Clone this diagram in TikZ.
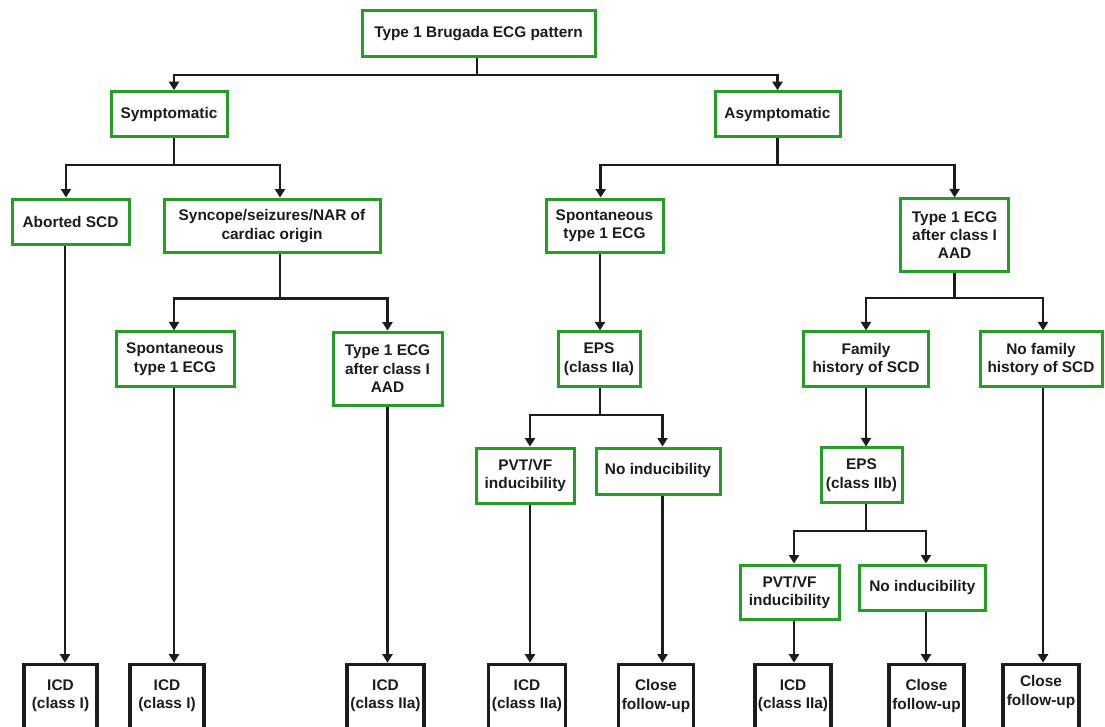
\documentclass[tikz,border=0pt]{standalone}
\usepackage{fontspec}
\setmainfont{Liberation Sans}
\usetikzlibrary{arrows.meta}
\definecolor{boxgreen}{RGB}{36,158,36}
\definecolor{ink}{RGB}{28,28,28}
\tikzset{
  gbox/.style={draw=boxgreen, line width=3pt, fill=white, inner sep=0pt,
    align=center, text=ink, font=\fontsize{15.4}{18.3}\selectfont\bfseries},
  kbox/.style={draw=ink, line width=3.5pt, fill=white, inner sep=0pt, anchor=north,
    minimum height=72pt, align=center, text=ink, font=\fontsize{15.4}{18.3}\selectfont\bfseries},
  conn/.style={draw=ink, line width=2.5pt},
  arr/.style={conn, -{Triangle[length=8.5pt,width=10pt]}},
}
\newcommand{\lowstrut}[1]{\rule[-#1pt]{0pt}{0pt}}
\begin{document}
\begin{tikzpicture}[x=1pt,y=-1pt]
\useasboundingbox (0,0) rectangle (1105,726);
\clip (0,0) rectangle (1105,726);
% green decision boxes
\node[gbox, minimum width=233pt, minimum height=46pt] (top) at (478.5,33.7) {Type 1 Brugada ECG pattern};
\node[gbox, minimum width=116pt, minimum height=45pt] (sym) at (169,114.2) {Symptomatic};
\node[gbox, minimum width=125pt, minimum height=45pt] (asym) at (777.5,114.2) {Asymptomatic};
\node[gbox, minimum width=117pt, minimum height=45pt] (abort) at (70.5,221.5) {Aborted SCD};
\node[gbox, minimum width=216pt, minimum height=53.7pt] (sync) at (272,225.9) {Syncope/seizures/NAR of\\cardiac origin};
\node[gbox, minimum width=117pt, minimum height=53.7pt] (spa) at (604.5,225.9) {Spontaneous\\type 1 ECG};
\node[gbox, minimum width=108pt, minimum height=72.7pt] (t1a) at (954.6,235.3) {Type 1 ECG\\after class I\\AAD};
\node[gbox, minimum width=118pt, minimum height=54.7pt] (sps) at (175,359.3) {Spontaneous\\type 1 ECG};
\node[gbox, minimum width=109pt, minimum height=73.3pt] (t1s) at (387.5,368.7) {Type 1 ECG\\after class I\\AAD};
\node[gbox, minimum width=82pt, minimum height=54.7pt] (eps1) at (599,359.3) {EPS\\(class IIa)};
\node[gbox, minimum width=125pt, minimum height=54.7pt] (fam) at (866,359.3) {Family\\history of SCD};
\node[gbox, minimum width=122pt, minimum height=54.7pt] (nofam) at (1041,359.3) {No family\\history of SCD};
\node[gbox, minimum width=98.6pt, minimum height=55.3pt] (pvt1) at (525.3,475.7) {PVT/VF\\inducibility};
\node[gbox, minimum width=124pt, minimum height=46pt] (noind1) at (658,471) {No inducibility};
\node[gbox, minimum width=81pt, minimum height=54.7pt] (eps2) at (861.5,475.3) {EPS\\(class IIb)};
\node[gbox, minimum width=99pt, minimum height=54.3pt] (pvt2) at (789.5,592.2) {PVT/VF\\inducibility};
\node[gbox, minimum width=125.4pt, minimum height=45pt] (noind2) at (922.3,587.5) {No inducibility};
% black outcome boxes (run off the bottom edge)
\node[kbox, minimum width=73pt] (b1) at (60.5,662.7) {ICD\\(class I)\lowstrut{12}};
\node[kbox, minimum width=74pt] (b2) at (167,662.7) {ICD\\(class I)\lowstrut{12}};
\node[kbox, minimum width=77pt] (b3) at (385.5,662.7) {ICD\\(class IIa)\lowstrut{12}};
\node[kbox, minimum width=77pt] (b4) at (527,662.7) {ICD\\(class IIa)\lowstrut{12}};
\node[kbox, minimum width=75pt] (b5) at (656,662.7) {Close\\follow-up\lowstrut{12}};
\node[kbox, minimum width=76pt] (b6) at (793,662.7) {ICD\\(class IIa)\lowstrut{12}};
\node[kbox, minimum width=75pt] (b7) at (926.5,662.7) {Close\\follow-up\lowstrut{12}};
\node[kbox, minimum width=76pt] (b8) at (1041,662.7) {Close\\follow-up\lowstrut{20}};
% connectors
\draw[arr] ([xshift=-1.5pt]top.south) -- ++(0,16.6) -| ([xshift=5pt]sym.north);
\draw[arr] ([xshift=-1.5pt]top.south) -- ++(0,16.6) -| (asym.north);
\draw[arr] ([xshift=5pt]sym.south) -- ++(0,26.6) -| ([xshift=-4.5pt]abort.north);
\draw[arr] ([xshift=5pt]sym.south) -- ++(0,26.6) -| ([xshift=8pt]sync.north);
\draw[arr] (asym.south) -- ++(0,26.6) -| ([xshift=-3.8pt]spa.north);
\draw[arr] (asym.south) -- ++(0,26.6) -| (t1a.north);
\draw[arr] ([xshift=8pt]sync.south) -- ++(0,44) -| ([xshift=-1pt]sps.north);
\draw[arr] ([xshift=8pt]sync.south) -- ++(0,44) -| (t1s.north);
\draw[arr] (t1a.south) -- ++(0,25) -| ([xshift=0pt]fam.north);
\draw[arr] (t1a.south) -- ++(0,25) -| ([xshift=2pt]nofam.north);
\draw[arr] ([xshift=-5.5pt]abort.south) -- ([xshift=4.5pt]b1.north);
\draw[arr] ([xshift=-1pt]sps.south) -- ([xshift=7pt]b2.north);
\draw[arr] (t1s.south) -- ([xshift=2pt]b3.north);
\draw[arr] ([xshift=-4.5pt]spa.south) -- ([xshift=1pt]eps1.north);
\draw[arr] ([xshift=1pt]eps1.south) -- ++(0,26.6) -| ([xshift=4.7pt]pvt1.north);
\draw[arr] ([xshift=1pt]eps1.south) -- ++(0,26.6) -| ([xshift=4.5pt]noind1.north);
\draw[arr] ([xshift=4.7pt]pvt1.south) -- ([xshift=3pt]b4.north);
\draw[arr] ([xshift=4.5pt]noind1.south) -- ([xshift=6.5pt]b5.north);
\draw[arr] (fam.south) -- ([xshift=4.5pt]eps2.north);
\draw[arr] ([xshift=4.5pt]eps2.south) -- ++(0,26.6) -| ([xshift=4.5pt]pvt2.north);
\draw[arr] ([xshift=4.5pt]eps2.south) -- ++(0,26.6) -| ([xshift=3.7pt]noind2.north);
\draw[arr] ([xshift=4.5pt]pvt2.south) -- ([xshift=1pt]b6.north);
\draw[arr] ([xshift=3.7pt]noind2.south) -- ([xshift=-0.5pt]b7.north);
\draw[arr] ([xshift=2pt]nofam.south) -- ([xshift=2pt]b8.north);
\end{tikzpicture}
\end{document}
